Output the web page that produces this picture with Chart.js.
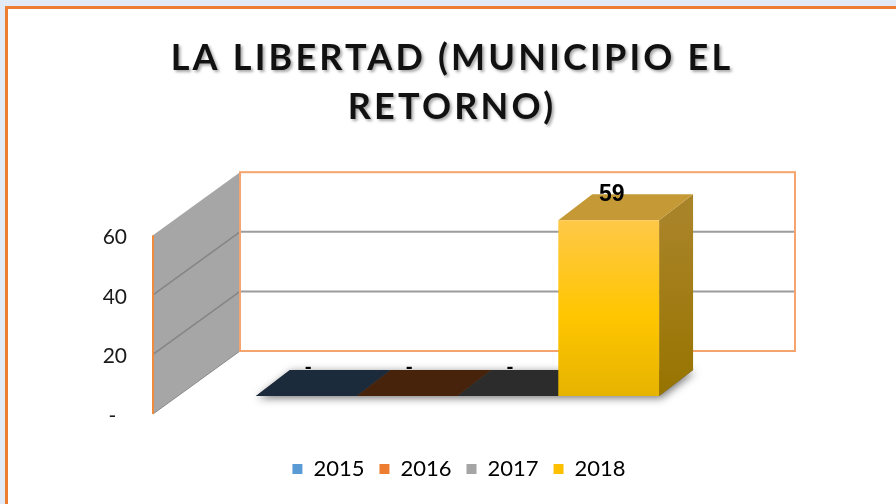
<!DOCTYPE html>
<html>
<head>
<meta charset="utf-8">
<script src="https://cdn.jsdelivr.net/npm/chart.js@4.4.0/dist/chart.umd.min.js"></script>
<style>
  html, body { margin: 0; padding: 0; background: #e1eaf5; }
  #wrap { width: 896px; height: 504px; }
</style>
</head>
<body>
<div id="wrap"><canvas id="myChart" width="896" height="504"></canvas></div>
<script>
// data
const categories = ['La Libertad'];
const seriesNames = ['2015', '2016', '2017', '2018'];
const values2015 = [0];
const values2016 = [0];
const values2017 = [0];
const values2018 = [59];
const yTicks = [0, 20, 40, 60];
const titleLines = ['LA LIBERTAD (MUNICIPIO EL', 'RETORNO)'];

// styling
const legendColors = ['#5b9bd5', '#ed7d31', '#a5a5a5', '#ffc000'];
const topColors = ['#1b2b3c', '#47230c', '#2c2c2c', '#c59a36'];
const DX = 34, DY = -26;   // depth of the bars

function frontFill(context) {
    const chart = context.chart;
    const a = chart.chartArea;
    if (!a) return legendColors[3];
    const g = chart.ctx.createLinearGradient(0, a.top, 0, a.bottom);
    g.addColorStop(0, '#ffc84a');
    g.addColorStop(0.55, '#ffc600');
    g.addColorStop(1, '#e6b300');
    return g;
}

function poly(ctx, pts) {
    ctx.beginPath();
    ctx.moveTo(pts[0][0], pts[0][1]);
    for (let i = 1; i < pts.length; i++) ctx.lineTo(pts[i][0], pts[i][1]);
    ctx.closePath();
}

// wrap a box's draw so it can be nudged / styled
function wrapBox(box, fn) {
    if (!box || box._wrapped) return;
    const orig = box.draw;
    box.draw = function (area) {
        const c = this.ctx;
        c.save();
        fn(c);
        orig.call(this, area);
        c.restore();
    };
    box._wrapped = true;
}

const framePlugin = {
    id: 'frame',
    beforeDraw(chart) {
        const ctx = chart.ctx;
        ctx.save();
        ctx.fillStyle = '#e1eaf5';
        ctx.fillRect(0, 0, chart.width, chart.height);
        ctx.fillStyle = '#ffffff';
        ctx.fillRect(6, 8, chart.width, chart.height);
        ctx.strokeStyle = '#ed7d31';
        ctx.lineWidth = 3;
        ctx.strokeRect(6.5, 7.5, chart.width + 10, chart.height + 10);
        ctx.restore();

        wrapBox(chart.titleBlock, c => {
            c.translate(-3, 0);
            c.letterSpacing = '3.2px';
            c.shadowColor = 'rgba(0,0,0,0.35)';
            c.shadowOffsetX = 2;
            c.shadowOffsetY = 2;
            c.shadowBlur = 3;
        });
        wrapBox(chart.legend, c => { c.translate(4, 0); });
    }
};

const wallsPlugin = {
    id: 'walls',
    beforeDatasetsDraw(chart) {
        const ctx = chart.ctx;
        const a = chart.chartArea;
        const y = chart.scales.y;
        const lo = yTicks[0], hi = yTicks[yTicks.length - 1];
        const fy = v => y.getPixelForValue(v) + 18;
        const by = v => y.getPixelForValue(v) - 45;
        const fx = a.left, bx = a.left + 87, rx = a.right + 33;

        ctx.save();
        // left wall
        poly(ctx, [[fx, fy(hi)], [bx, by(hi)], [bx, by(lo)], [fx, fy(lo)]]);
        ctx.fillStyle = '#a6a6a6';
        ctx.fill();
        ctx.strokeStyle = '#858585';
        ctx.lineWidth = 1.5;
        yTicks.slice(1, -1).forEach(v => {
            ctx.beginPath();
            ctx.moveTo(fx, fy(v));
            ctx.lineTo(bx, by(v));
            ctx.stroke();
        });
        ctx.strokeStyle = '#8a8a8a';
        ctx.lineWidth = 1;
        ctx.beginPath();
        ctx.moveTo(fx, fy(lo));
        ctx.lineTo(bx, by(lo));
        ctx.stroke();
        ctx.strokeStyle = '#f08a3c';
        ctx.lineWidth = 2;
        ctx.beginPath();
        ctx.moveTo(fx, fy(hi));
        ctx.lineTo(fx, fy(lo));
        ctx.stroke();

        // back wall
        ctx.fillStyle = '#ffffff';
        ctx.fillRect(bx, by(hi), rx - bx, by(lo) - by(hi));
        ctx.strokeStyle = '#9c9c9c';
        ctx.lineWidth = 2;
        yTicks.slice(1, -1).forEach(v => {
            ctx.beginPath();
            ctx.moveTo(bx, by(v));
            ctx.lineTo(rx, by(v));
            ctx.stroke();
        });
        ctx.strokeStyle = '#f4a46c';
        ctx.lineWidth = 2;
        ctx.strokeRect(bx, by(hi), rx - bx, by(lo) - by(hi));

        // shadow under the bars
        const bars = chart.data.datasets.map((ds, i) => chart.getDatasetMeta(i).data[0]);
        const first = bars[0], last = bars[bars.length - 1];
        const l = first.x - first.width / 2, r = last.x + last.width / 2, b = first.base;
        ctx.save();
        ctx.shadowColor = 'rgba(0,0,0,0.55)';
        ctx.shadowBlur = 9;
        ctx.shadowOffsetX = 2;
        ctx.shadowOffsetY = 2;
        poly(ctx, [[l, b], [r, b], [r + DX, b + DY], [l + DX, b + DY]]);
        ctx.fillStyle = '#555555';
        ctx.fill();
        ctx.restore();

        // top and side faces
        bars.forEach((bar, i) => {
            const x0 = bar.x - bar.width / 2, x1 = bar.x + bar.width / 2;
            const top = Math.min(bar.y, bar.base), base = bar.base;
            if (base - top > 0.5) {
                const g = ctx.createLinearGradient(0, top, 0, base);
                g.addColorStop(0, '#a98327');
                g.addColorStop(1, '#977400');
                poly(ctx, [[x1, top], [x1 + DX, top + DY], [x1 + DX, base + DY], [x1, base]]);
                ctx.fillStyle = g;
                ctx.fill();
            }
            poly(ctx, [[x0, top], [x1, top], [x1 + DX, top + DY], [x0 + DX, top + DY]]);
            ctx.fillStyle = topColors[i];
            ctx.fill();
        });
        ctx.restore();
    }
};

const labelsPlugin = {
    id: 'valueLabels',
    afterDatasetsDraw(chart) {
        const ctx = chart.ctx;
        ctx.save();
        ctx.fillStyle = '#000000';
        ctx.textAlign = 'center';
        ctx.textBaseline = 'middle';
        chart.data.datasets.forEach((ds, i) => {
            const bar = chart.getDatasetMeta(i).data[0];
            const v = ds.data[0];
            const top = Math.min(bar.y, bar.base);
            if (v === 0) {
                ctx.font = 'bold 20px Lato, sans-serif';
                ctx.fillText('-', bar.x + 2, top + DY - 2);
            } else {
                ctx.font = 'bold 23px "Liberation Sans", Arial, sans-serif';
                ctx.fillText(String(v), bar.x + 3, top + DY);
            }
        });
        ctx.restore();
    }
};

const seriesValues = [values2015, values2016, values2017, values2018];

const data = {
    labels: categories,
    datasets: seriesNames.map((name, i) => ({
        label: name,
        data: seriesValues[i],
        backgroundColor: i === 3 ? frontFill : legendColors[i],
        borderWidth: 0,
        barPercentage: 1,
        categoryPercentage: 0.662
    }))
};

const config = {
    type: 'bar',
    data: data,
    options: {
        responsive: false,
        animation: false,
        layout: { padding: { left: 14, right: 0, top: 0, bottom: 14 } },
        plugins: {
            tooltip: { enabled: false },
            title: {
                display: true,
                text: titleLines,
                color: '#111111',
                font: { family: 'Lato', size: 36, weight: 'bold', lineHeight: 1.35 },
                padding: { top: 34, bottom: 86 }
            },
            legend: {
                position: 'bottom',
                labels: {
                    boxWidth: 10,
                    boxHeight: 10,
                    padding: 15,
                    color: '#262626',
                    font: { family: 'Lato', size: 22 },
                    generateLabels: chart => chart.data.datasets.map((ds, i) => ({
                        text: ds.label,
                        fillStyle: legendColors[i],
                        strokeStyle: legendColors[i],
                        lineWidth: 0,
                        hidden: false,
                        datasetIndex: i
                    }))
                }
            }
        },
        scales: {
            x: {
                grid: { display: false, drawTicks: false },
                border: { display: false },
                ticks: { display: false },
                afterFit: axis => { axis.height = 47; }
            },
            y: {
                min: yTicks[0],
                max: yTicks[yTicks.length - 1],
                grid: { display: false, drawTicks: false },
                border: { display: false },
                ticks: {
                    stepSize: yTicks[1] - yTicks[0],
                    padding: 26,
                    labelOffset: 20,
                    color: '#1a1a1a',
                    font: { family: 'Lato', size: 21 },
                    callback: v => (v === 0 ? '-  ' : v)
                },
                afterFit: axis => { axis.width = 139; }
            },
            spacer: {
                type: 'linear',
                position: 'right',
                min: 0,
                max: 1,
                grid: { display: false, drawTicks: false },
                border: { display: false },
                ticks: { display: false },
                afterFit: axis => { axis.width = 134; }
            }
        }
    },
    plugins: [framePlugin, wallsPlugin, labelsPlugin]
};

const ctx = document.getElementById('myChart');
let myChart = new Chart(ctx, config);
</script>
</body>
</html>
